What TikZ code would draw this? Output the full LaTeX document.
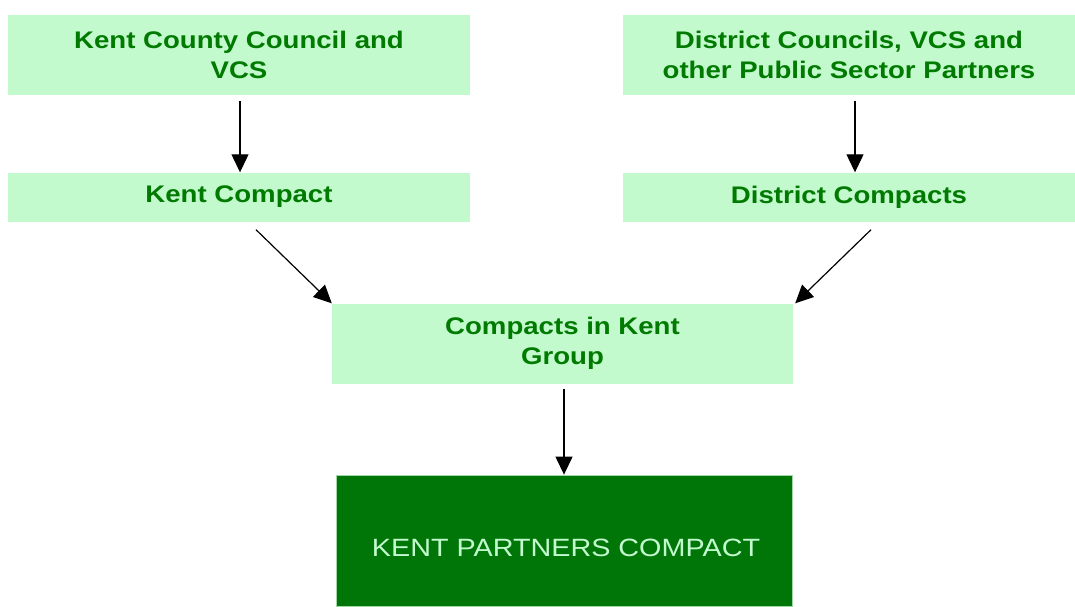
\documentclass[tikz,border=0pt]{standalone}
\usepackage{fontspec}
\setmainfont{Liberation Sans}[FakeStretch=1.15]
\usepackage{xcolor}
\usetikzlibrary{arrows.meta}
\definecolor{paleGreen}{RGB}{195,250,205}
\definecolor{textGreen}{RGB}{0,122,0}
\definecolor{deepGreen}{RGB}{0,118,8}
\definecolor{edgeGreen}{RGB}{160,215,165}

\tikzset{
  stage/.style={fill=paleGreen, text=textGreen, align=center,
    inner sep=0pt, font=\bfseries\fontsize{24}{30}\selectfont},
  final/.style={fill=deepGreen, draw=edgeGreen, line width=0.8pt,
    text=paleGreen, inner sep=0pt},
  flow/.style={-{Triangle[length=18pt,width=17pt]}, line width=1.2pt}
}

\begin{document}
\begin{tikzpicture}[x=1pt,y=-1pt]
    \useasboundingbox (0,0) rectangle (1075,606);
    \node[stage,minimum width=462pt,minimum height=80pt] (kcc)
      at (239,55) {Kent County Council and\\VCS};
    \node[stage,minimum width=452pt,minimum height=80pt] (dcp)
      at (849,55) {District Councils, VCS and\\other Public Sector Partners};
    \node[stage,minimum width=462pt,minimum height=49pt] (kentc)
      at (239,197) {Kent Compact};
    \node[stage,minimum width=452pt,minimum height=49pt] (distc)
      at (849,197) {District Compacts};
    \node[stage,minimum width=461pt,minimum height=80pt] (cikg)
      at (562.5,343.5) {Compacts in Kent\\Group};
    \node[final,minimum width=456pt,minimum height=131pt] (kpc)
      at (564,540.5) {};
    \node[text=paleGreen,font=\fontsize{25}{30}\selectfont] (kpctext)
      at (566,548) {KENT PARTNERS COMPACT};
    % arrows between the boxes
    \draw[flow] ([xshift=1pt,yshift=-6pt]kcc.south)
      -- ([xshift=1pt]kentc.north);
    \draw[flow] ([xshift=6pt,yshift=-6pt]dcp.south)
      -- ([xshift=6pt]distc.north);
    \draw[flow] ([xshift=17pt,yshift=-8pt]kentc.south) -- (cikg.north west);
    \draw[flow] ([xshift=22pt,yshift=-8pt]distc.south)
      -- ([xshift=2pt]cikg.north east);
    \draw[flow] ([yshift=-5pt]cikg.south -| kpc.north) -- (kpc.north);
  \end{tikzpicture}
\end{document}
